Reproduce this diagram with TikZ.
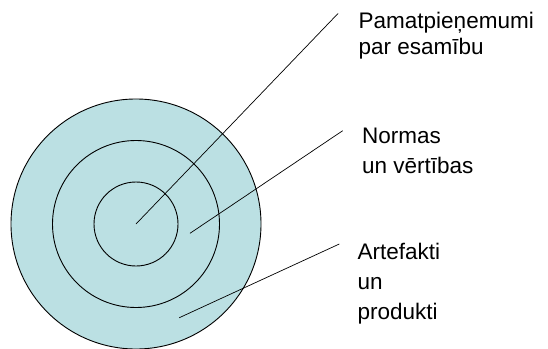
\documentclass[tikz,border=0pt]{standalone}
\usepackage{fontspec}
\setmainfont{Liberation Sans}
\definecolor{ringfill}{RGB}{187,224,227}

\begin{document}
\begin{tikzpicture}[x=1pt, y=-1pt,
				ring/.style={circle, draw=black, line width=0.9pt, fill=ringfill, inner sep=0pt},
				pointer/.style={draw=black, line width=0.7pt},
				lbl/.style={anchor=base west, inner sep=0pt, align=left, font=\fontsize{22.5}{30}\selectfont}
			]
			\useasboundingbox (0,0) rectangle (548,348);
			\node[ring, minimum size=250pt] (ringouter) at (136,224) {};
			\node[ring, minimum size=167pt] (ringmiddle) at (136,224) {};
			\node[ring, minimum size=84pt] (ringinner) at (136,224) {};
			\coordinate (tipcore) at (338,13.5);
			\coordinate (tipnorms) at (342.7,130.7);
			\coordinate (tipartefacts) at (339.3,244);
			\coordinate (startnorms) at (190,233.3);
			\coordinate (startartefacts) at (179.3,317.7);
			% base anchor sits on the last line
			\node[lbl, font=\fontsize{22.5}{26}\selectfont] (lblcore) at (358.5,54.7) {Pamatpieņemumi\\par esamību};
			\node[lbl] (lblnorms) at (362,173.7) {Normas\\un vērtības};
			\node[lbl] (lblartefacts) at (357.5,319.7) {Artefakti\\un\\produkti};
			\draw[pointer] (ringinner.center) -- (tipcore);
			\draw[pointer] (startnorms) -- (tipnorms);
			\draw[pointer] (startartefacts) -- (tipartefacts);
			\end{tikzpicture}
\end{document}
